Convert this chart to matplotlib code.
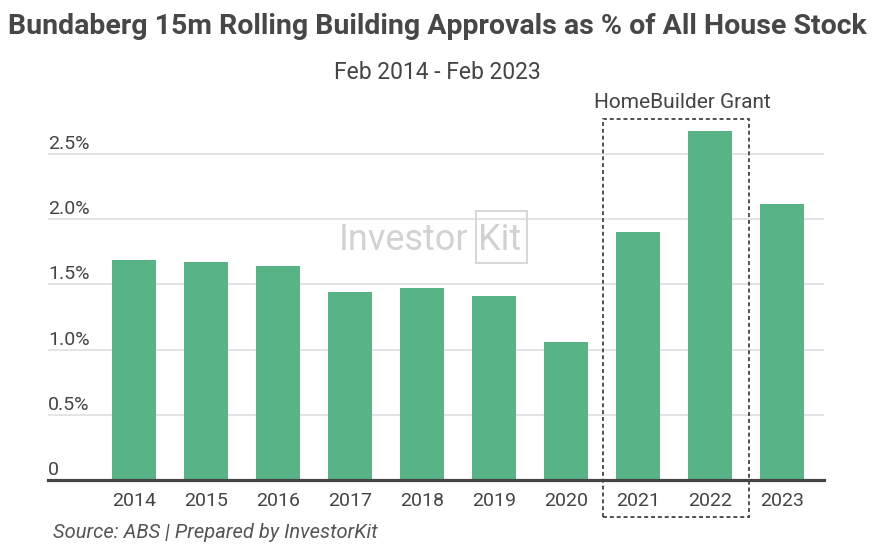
import matplotlib
matplotlib.use("Agg")
from matplotlib import pyplot as plt
from matplotlib.patches import Rectangle
import matplotlib.transforms as mtransforms

plt.rcParams['font.family'] = ['Roboto', 'DejaVu Sans']

years = ['2014', '2015', '2016', '2017', '2018', '2019', '2020', '2021', '2022', '2023']
approvals = [1.69, 1.67, 1.64, 1.44, 1.47, 1.41, 1.06, 1.90, 2.68, 2.12]
ytick_vals = [0, 0.5, 1.0, 1.5, 2.0, 2.5]
ytick_labels = ['0', '0.5%', '1.0%', '1.5%', '2.0%', '2.5%']

bar_color = '#58b486'
text_color = '#444444'

fig = plt.figure(figsize=(8.75, 5.5), dpi=100)
W, H = 875, 550
ymax = 2.8
px_per_unit = 130.4
ax = fig.add_axes([48 / W, 70 / H, 776 / W, ymax * px_per_unit / H])

x = list(range(len(years)))
ax.bar(x, approvals, width=0.61, color=bar_color, zorder=2)
ax.set_xlim(-1.194, 9.583)
ax.set_ylim(0, ymax)

for v in ytick_vals[1:]:
    ax.axhline(v, color='#dcdcdc', lw=1.1, zorder=1)
ax.axhline(0, color='#444444', lw=2.3, zorder=3, clip_on=False)

for s in ax.spines.values():
    s.set_visible(False)
ax.set_yticks([])
ax.set_xticks(x)
ax.set_xticklabels(years, fontsize=14, color=text_color)
ax.tick_params(axis='x', length=0, pad=9)

# y labels sit just above their grid lines
off = mtransforms.offset_copy(ax.get_yaxis_transform(), fig=fig, x=0, y=5, units='dots')
for v, lab in zip(ytick_vals, ytick_labels):
    ax.text(0, v, lab, transform=off, fontsize=14, color=text_color,
            ha='left', va='baseline')

# HomeBuilder grant box
ax.add_patch(Rectangle((6.514, -0.284), 2.026, 3.052, fill=False,
                       ls=(0, (2.2, 1.6)), lw=1.3, ec='#444444',
                       clip_on=False, zorder=4))
ax.text(7.62, 2.85, 'HomeBuilder Grant', fontsize=15, color=text_color,
        ha='center', va='baseline')

# watermark
fig.text(339 / W, 1 - 250 / H, 'Investor', fontsize=26, color='#d2d2d2',
         ha='left', va='baseline', zorder=0)
fig.text(478 / W, 1 - 250 / H, 'Kit', fontsize=26, color='#d2d2d2',
         ha='left', va='baseline', zorder=0)
fig.patches.append(Rectangle((476 / W, 1 - 263 / H), 51 / W, 52 / H,
                             transform=fig.transFigure, fill=False,
                             ec='#d8d8d8', lw=1.5, zorder=0))

fig.text(0.5, 1 - 34 / H, 'Bundaberg 15m Rolling Building Approvals as % of All House Stock',
         fontsize=20.5, fontweight='bold', color='#474747', ha='center', va='baseline')
fig.text(0.5, 1 - 79 / H, 'Feb 2014 - Feb 2023', fontsize=16.5, color=text_color,
         ha='center', va='baseline')
fig.text(53 / W, 1 - 538 / H, 'Source: ABS | Prepared by InvestorKit', fontsize=14.5,
         style='italic', color='#555555', ha='left', va='baseline')

fig.savefig('out.png', dpi=100)
